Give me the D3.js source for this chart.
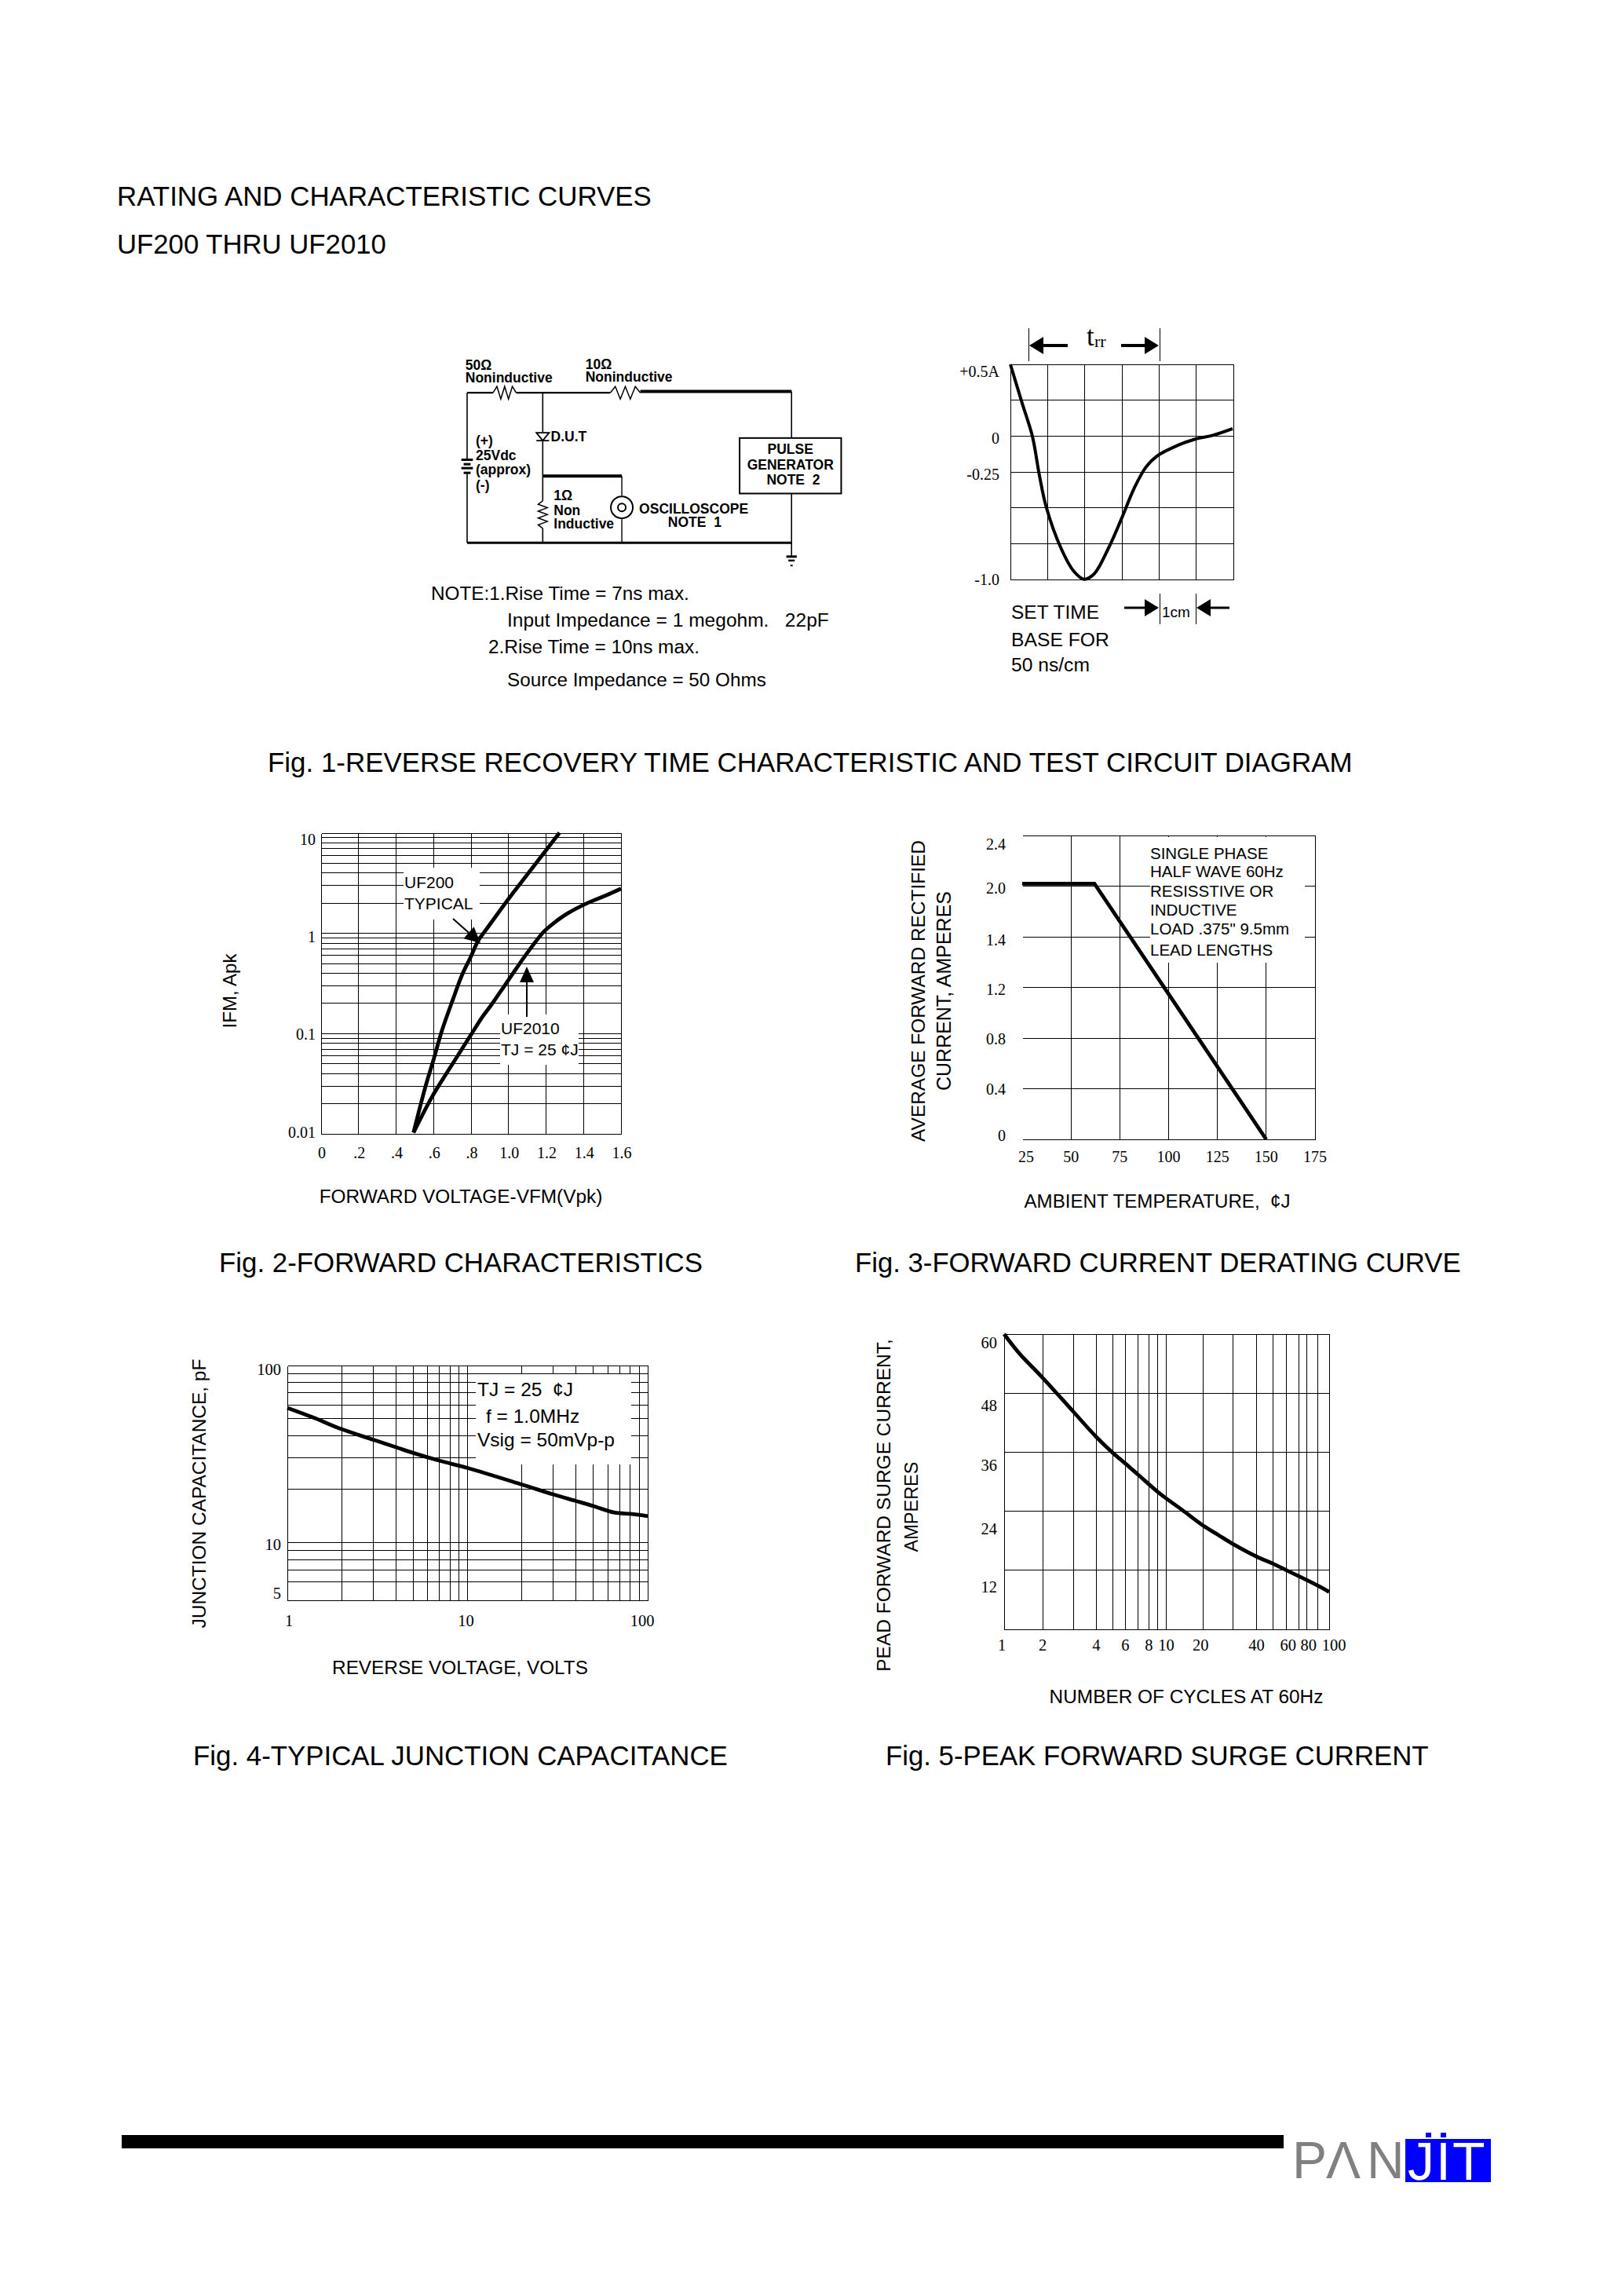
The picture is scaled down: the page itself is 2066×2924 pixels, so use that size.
<!DOCTYPE html>
<html><head><meta charset="utf-8">
<script src="https://cdn.jsdelivr.net/npm/d3@7/dist/d3.min.js"></script>
<style>html,body{margin:0;padding:0;background:#fff}svg{display:block}
text{font-family:"Liberation Sans",Arial,sans-serif;fill:#000}
.serif{font-family:"Liberation Serif","Times New Roman",serif}</style>
</head><body><svg id="c" width="2066" height="2924"></svg>
<script>
// ---- Fig. 1 waveform
const wave_t = [0,.31,.59,.78,.96,1.36,1.71,1.98,2.25,2.64,2.98,3.33,3.64,3.95,4.5,4.99,5.43,5.98];
const wave_i = [.5,.234,0,-.274,-.491,-.781,-.944,-.998,-.962,-.781,-.582,-.364,-.219,-.138,-.065,-.02,.004,.052];
const wave_grid_t = [1,2,3,4,5];
const wave_grid_i = [.25,0,-.25,-.5,-.75];
const wave_labels = [[.5,"+0.5A"],[0,"0"],[-.25,"-0.25"],[-1,"-1.0"]];
// ---- Fig. 2 forward characteristics
const f2_vticks = [0,.2,.4,.6,.8,1,1.2,1.4,1.6];
const f2_vlabels = ["0",".2",".4",".6",".8","1.0","1.2","1.4","1.6"];
const f2_ilabels = [10,1,.1,.01];
const uf200_v = [.493,.557,.6,.646,.702,.75,.798,.838,.879,1,1.104,1.272];
const uf200_i = [.0103,.0297,.055,.109,.216,.377,.582,.845,1.08,2.21,3.95,10.1];
const uf2010_v = [.493,.59,.67,.734,.798,.863,.911,.975,1.039,1.095,1.184,1.24,1.312,1.425,1.513,1.6];
const uf2010_i = [.0103,.0231,.0404,.0624,.0964,.149,.197,.294,.44,.62,1.02,1.26,1.57,2.02,2.36,2.79];
// ---- Fig. 3 derating
const f3_temp = [25,62,150];
const f3_amps = [2.02,2.02,0];
const f3_tticks = [25,50,75,100,125,150,175];
const f3_aticks = [0,.4,.8,1.2,1.6,2,2.4];
const f3_alabels = ["0","0.4","0.8","1.2","1.4","2.0","2.4"];
const f3_note = ["SINGLE PHASE","HALF WAVE 60Hz","RESISSTIVE OR","INDUCTIVE","LOAD .375\" 9.5mm","LEAD LENGTHS"];
// ---- Fig. 4 capacitance
const f4_v = [1,1.43,2,3,4,5,7,10,20,30,40,50,65,82,100];
const f4_c = [57.6,50.3,43.7,38.1,34.6,32.1,29,26.4,21.3,18.7,17.2,16.1,14.8,14.5,14.1];
const f4_vgrid = [2,3,4,5,6,7,8,9,10,20,30,40,50,60,70,80,90];
const f4_cgrid = [90,80,70,60,50,40,30,20,10,9,8,7,6];
const f4_clabels = [100,10,5];
const f4_vlabels = [1,10,100];
// ---- Fig. 5 surge
const f5_n = [1,1.38,2,3,4,5,6,7,9,10,14.8,20,25,30,40,50,60,80,90,100];
const f5_a = [60,56.2,51.1,44.2,39.1,35.8,33.7,31.4,28,26.6,24,21.1,19.2,17.3,14.8,13.3,12,10,8.9,7.6];
const f5_cycles = [1,2,3,4,5,6,7,8,9,10,20,30,40,50,60,70,80,90,100];
const f5_frac = [0,.1189,.2134,.2835,.3354,.3730,.4126,.4451,.4715,.4990,.6118,.7053,.7764,.8283,.8689,.9065,.9319,.9644,1];
const f5_nlabels = [1,2,4,6,8,10,20,40,60,80,100];
const f5_alabels = [60,48,36,24,12];
const f5_agrid = [48,36,24,12];

const svg = d3.select("#c");
function T(x,y,s,o={}){
  const t = svg.append("text").attr("x",x).attr("y",y).text(s)
    .attr("font-size",o.fs||24).attr("text-anchor",o.a||"start").attr("dy",o.dy==null?".35em":o.dy);
  if(o.serif) t.classed("serif",true);
  if(o.bold) t.attr("font-weight",700);
  if(o.fill) t.style("fill",o.fill);
  if(o.w){const m=t.node().getComputedTextLength(); t.attr("font-size",(o.fs||24)*o.w/m);}
  if(o.rot) t.attr("transform",`rotate(-90 ${x} ${y})`);
  return t;
}
const snap=v=>Math.round(v-.5)+.5;
function L(pts,w=1,crisp=true){
  const q=crisp?pts.map(p=>[snap(p[0]),snap(p[1])]):pts;
  const p = svg.append("path").attr("d",d3.line()(q)).attr("fill","none").attr("stroke","#000").attr("stroke-width",w);
  if(crisp) p.attr("shape-rendering","crispEdges");
  return p;
}
function arrow(x0,y0,x1,y1,hl,hw,w=1.6){
  const a=Math.atan2(y1-y0,x1-x0), c=Math.cos(a), s=Math.sin(a);
  L([[x0,y0],[x1-c*hl,y1-s*hl]],w,false);
  svg.append("path").attr("d",d3.line()([[x1,y1],[x1-c*hl-s*hw/2,y1-s*hl+c*hw/2],[x1-c*hl+s*hw/2,y1-s*hl-c*hw/2]])+"Z").attr("fill","#000");
}
function curve(xs,ys,sx,sy,w=4.8){
  svg.append("path").datum(xs.map((d,i)=>[d,ys[i]]))
    .attr("d",d3.line().x(d=>sx(d[0])).y(d=>sy(d[1])).curve(d3.curveCatmullRom.alpha(.5)))
    .attr("fill","none").attr("stroke","#000").attr("stroke-width",w).attr("stroke-linejoin","round");
}
function grid(sx,sy,xv,yv,x0,x1,y0,y1){
  xv.forEach(v=>L([[sx(v),y0],[sx(v),y1]]));
  yv.forEach(v=>L([[x0,sy(v)],[x1,sy(v)]]));
}
function mask(x,y,w,h){svg.append("rect").attr("x",x).attr("y",y).attr("width",w).attr("height",h).attr("fill","#fff");}
function box(x0,x1,y0,y1,sides="tblr"){
  if(sides.includes("t"))L([[x0,y0],[x1,y0]]);
  if(sides.includes("b"))L([[x0,y1],[x1,y1]]);
  if(sides.includes("l"))L([[x0,y0],[x0,y1]]);
  if(sides.includes("r"))L([[x1,y0],[x1,y1]]);
}

// ---- header
T(149,262,"RATING AND CHARACTERISTIC CURVES",{fs:35,dy:0,w:681});
T(149,323,"UF200 THRU UF2010",{fs:35,dy:0,w:343});

// ---- captions
T(341,971,"Fig. 1-REVERSE RECOVERY TIME CHARACTERISTIC AND TEST CIRCUIT DIAGRAM",{fs:36,w:1382});
T(279,1608,"Fig. 2-FORWARD CHARACTERISTICS",{fs:36,w:616});
T(1089,1608,"Fig. 3-FORWARD CURRENT DERATING CURVE",{fs:36,w:772});
T(246,2236,"Fig. 4-TYPICAL JUNCTION CAPACITANCE",{fs:36,w:681});
T(1128,2236,"Fig. 5-PEAK FORWARD SURGE CURRENT",{fs:36,w:692});

// ---- circuit (schematic, local drawing coordinates)
const P=(x,y)=>[499.4+x/1.36,379.5+y/3];
const W=(pts,w=1.5)=>L(pts.map(p=>P(p[0],p[1])),w,false);
function zigH(x0,x1,y,n=3){const r=[];const st=(x1-x0)/(n*2);for(let i=0;i<=n*2;i++)r.push([x0+i*st,y+(i===0||i===n*2?0:(i%2?-24:24))]);W(r);}
function zigV(x,y0,y1,n=4){const r=[];const st=(y1-y0)/(n*2);for(let i=0;i<=n*2;i++)r.push([x+(i===0||i===n*2?0:(i%2?-8:8)),y0+i*st]);W(r);}
W([[130,362],[175,362]],2.4); zigH(175,215,362); W([[215,362],[378,362]],2.4); zigH(378,430,362);
W([[430,357],[692,357]],4);
W([[130,362],[130,615]],1.6); W([[130,670],[130,935]],1.6);
[[618,20],[635,12],[650,20],[668,12]].forEach(b=>W([[130-b[1]/2,b[0]],[130+b[1]/2,b[0]]],3));
W([[130,935],[692,935]],3);
W([[261,362],[261,512]],1.6); W([[261,545],[261,775]],1.6); zigV(261,775,880); W([[261,880],[261,935]],1.6);
svg.append("path").attr("d",d3.line()([P(250,515),P(272,515),P(261,545)])+"Z").attr("fill","#fff").attr("stroke","#000").attr("stroke-width",1.8);
W([[250,545],[272,545]],1.8);
W([[261,680],[398,680]],4);
W([[398,680],[398,755]],1.4); W([[398,845],[398,935]],1.4);
{const c=P(398,800); svg.append("circle").attr("cx",c[0]).attr("cy",c[1]).attr("r",14).attr("fill","none").attr("stroke","#000").attr("stroke-width",2);
 svg.append("circle").attr("cx",c[0]).attr("cy",c[1]).attr("r",5).attr("fill","none").attr("stroke","#000").attr("stroke-width",2);}
W([[692,357],[692,535]],1.6); W([[692,747],[692,985]],1.6);
{const a=P(602,535),b=P(778,747); svg.append("rect").attr("x",a[0]).attr("y",a[1]).attr("width",b[0]-a[0]).attr("height",b[1]-a[1]).attr("fill","none").attr("stroke","#000").attr("stroke-width",2);}
[[988,18,3],[1003,11,2.4],[1022,4,2]].forEach(b=>W([[692-b[1]/2,b[0]],[692+b[1]/2,b[0]]],b[2]));
const CT=(x,y,s,a)=>{const p=P(x,y);T(p[0],p[1],s,{fs:17.5,bold:true,a:a||"start"});};
CT(127,255,"50Ω");CT(127,305,"Noninductive");CT(335,252,"10Ω");CT(335,300,"Noninductive");
CT(145,543,"(+)");CT(145,602,"25Vdc");CT(145,655,"(approx)");CT(145,715,"(-)");
CT(275,528,"D.U.T");CT(280,755,"1Ω");CT(280,810,"Non");CT(280,862,"Inductive");
CT(428,805,"OSCILLOSCOPE");CT(478,855,"NOTE\u00a0\u00a01");
CT(690,578,"PULSE","middle");CT(690,638,"GENERATOR","middle");CT(695,695,"NOTE\u00a0\u00a02","middle");
// notes
T(549,755,"NOTE:1.Rise Time = 7ns max.",{w:329});
T(646,789,"Input Impedance = 1 megohm.\u00a0\u00a0\u00a022pF",{w:410});
T(622,823,"2.Rise Time = 10ns max.",{w:269});
T(646,866,"Source Impedance = 50 Ohms",{w:330});
T(1288,779,"SET TIME",{w:112});
T(1288,814,"BASE FOR",{w:125});
T(1288,846,"50 ns/cm",{w:100});

// ---- Fig. 1 waveform plot
{
 const x0=1287,x1=1571,y0=464,y1=738;
 const sx=d3.scaleLinear().domain([0,6]).range([x0,x1]);
 const sy=d3.scaleLinear().domain([-1,.5]).range([y1,y0]);
 grid(sx,sy,wave_grid_t,wave_grid_i,x0,x1,y0,y1); box(x0,x1,y0,y1);
 curve(wave_t,wave_i,sx,sy,4);
 wave_labels.forEach(d=>T(x0-14,sy(d[0])+(d[0]>0?9:d[0]==-1?0:3),d[1],{serif:true,fs:20,a:"end"}));
 // trr dimension
 const tx0=1310,tx1=1477;
 L([[tx0,417],[tx0,459]]);L([[tx1,417],[tx1,459]]);
 arrow(1360,440,tx0+1,440,18,22,4); arrow(1428,440,tx1-1,440,18,22,4);
 T(1384,440,"t",{serif:true,fs:35,dy:0}); T(1394,442,"rr",{serif:true,fs:22,dy:0});
 L([[tx1,755],[tx1,794]]);L([[1523,755],[1523,794]]);
 arrow(1432,774,tx1-1,774,18,22,3); arrow(1566,774,1524,774,18,22,3);
 T(1480,779,"1cm",{fs:19});
}

// ---- Fig. 2
{
 const x0=409,x1=791,y0=1061,y1=1444;
 const sx=d3.scaleLinear().domain([0,1.6]).range([x0,x1]);
 const sy=d3.scaleLog().domain([.01,10]).range([y1,y0]);
 grid(sx,sy,f2_vticks.slice(1,-1),sy.ticks().filter(v=>v>.01&&v<10),x0,x1,y0,y1); box(x0,x1,y0,y1);
 mask(514,1105,97,66); mask(637,1292,100,64);
 T(515,1124,"UF200",{fs:21});T(515,1151,"TYPICAL",{fs:21});
 T(638,1310,"UF2010",{fs:21});T(638,1337,"TJ = 25 ¢J",{fs:21});
 curve(uf200_v,uf200_i,sx,sy); curve(uf2010_v,uf2010_i,sx,sy);
 arrow(577,1170,612,1201,20,20,2); arrow(671,1295,671,1231,20,18,2);
 f2_vticks.forEach((v,i)=>T(sx(v)+1,1468,f2_vlabels[i],{serif:true,fs:20,a:"middle"}));
 f2_ilabels.forEach(v=>T(x0-7,sy(v)+(v===.01?-2:(v===10?8:(v===1?4:1))),v,{serif:true,fs:20,a:"end"}));
 T(587,1523,"FORWARD VOLTAGE-VFM(Vpk)",{a:"middle",w:361});
 T(293,1262,"IFM, Apk",{rot:true,a:"middle",w:95});
}

// ---- Fig. 3
{
 const x0=1302,x1=1675,y0=1064,y1=1451;
 const sx=d3.scaleLinear().domain([25,175]).range([x0,x1]);
 const sy=d3.scaleLinear().domain([0,2.4]).range([y1,y0]);
 grid(sx,sy,f3_tticks.slice(1,-1),f3_aticks.slice(1,-1),x0,x1,y0,y1); box(x0,x1,y0,y1,"tbr");
 mask(1465,1066,197,160);
 f3_note.forEach((s,i)=>T(1465,[1087,1110,1135,1159,1183,1210][i],s,{fs:20.5}));
 svg.append("path").datum(f3_temp.map((d,i)=>[d,f3_amps[i]])).attr("d",d3.line().x(d=>sx(d[0])).y(d=>sy(d[1]))).attr("fill","none").attr("stroke","#000").attr("stroke-width",4.8);
 const off=[-5,0,1,2.5,4,2,11];
 f3_aticks.forEach((v,i)=>T(x0-21,sy(v)+off[i],f3_alabels[i],{serif:true,fs:20,a:"end"}));
 f3_tticks.forEach(v=>T(sx(v)+(v===25?5:0),1473,v,{serif:true,fs:20,a:"middle"}));
 T(1474,1530,"AMBIENT TEMPERATURE,\u00a0\u00a0¢J",{a:"middle",w:339});
 T(1169,1262,"AVERAGE FORWARD RECTIFIED",{rot:true,a:"middle",w:384});
 T(1202,1262,"CURRENT, AMPERES",{rot:true,a:"middle",w:254});
}

// ---- Fig. 4
{
 const x0=366,x1=825,y0=1739,y1=2038;
 const sx=d3.scaleLog().domain([1,100]).range([x0,x1]);
 const sy=d3.scaleLog().domain([4.73,100]).range([y1,y0]);
 grid(sx,sy,f4_vgrid,f4_cgrid,x0,x1,y0,y1); box(x0,x1,y0,y1);
 mask(606,1750,198,115);
 T(608,1769,"TJ = 25\u00a0\u00a0¢J",{fs:24.5});T(619,1803,"f = 1.0MHz",{fs:24.5});T(608,1833,"Vsig = 50mVp-p",{fs:24.5});
 curve(f4_v,f4_c,sx,sy);
 f4_clabels.forEach(v=>T(x0-8,sy(v)+(v===100?5:v===10?2:-4),v,{serif:true,fs:20.5,a:"end"}));
 f4_vlabels.forEach(v=>T(sx(v)+(v===1?2:v===100?-7:-2),2064,v,{serif:true,fs:20.5,a:"middle"}));
 T(586,2123,"REVERSE VOLTAGE, VOLTS",{a:"middle",w:326});
 T(253,1902,"JUNCTION CAPACITANCE, pF",{rot:true,a:"middle",w:343});
}

// ---- Fig. 5
{
 const x0=1279,x1=1693,y0=1699,y1=2075;
 // The printed grid is not a true log spacing, so each cycle count is mapped to its printed fraction of the width.
 const sx=d3.scaleLinear().domain(f5_cycles).range(f5_frac.map(f=>x0+f*(x1-x0)));
 const sy=d3.scaleLinear().domain([0,60]).range([y1,y0]);
 grid(sx,sy,f5_cycles.slice(1,-1),f5_agrid,x0,x1,y0,y1); box(x0,x1,y0,y1,"tblr");
 curve(f5_n,f5_a,sx,sy);
 const off=[11,16,16,22,21];
 f5_alabels.forEach((v,i)=>T(x0-9,sy(v)+off[i],v,{serif:true,fs:20.5,a:"end"}));
 const dx={1:-3,20:-3,60:2,80:2,100:6};
 f5_nlabels.forEach(v=>T(sx(v)+(dx[v]||0),2095,v,{serif:true,fs:20.5,a:"middle"}));
 T(1511,2160,"NUMBER OF CYCLES AT 60Hz",{a:"middle",w:349});
 T(1125,1917,"PEAD FORWARD SURGE CURRENT,",{rot:true,a:"middle",w:424});
 T(1161,1919,"AMPERES",{rot:true,a:"middle",w:115});
}

// ---- footer
svg.append("rect").attr("x",155).attr("y",2719).attr("width",1480).attr("height",17).attr("fill","#000");
svg.append("rect").attr("x",1790).attr("y",2724).attr("width",109).attr("height",55).attr("fill","#0000ff");
svg.append("rect").attr("x",1816).attr("y",2716).attr("width",7).attr("height",6).attr("fill","#0000ff");
svg.append("rect").attr("x",1835).attr("y",2716).attr("width",7).attr("height",6).attr("fill","#0000ff");
[["P",1646],["Λ",1689],["N",1741]].forEach(d=>T(d[1],2774,d[0],{fs:66,dy:0,fill:"#808080"}));
[["J",1793],["I",1829],["T",1850]].forEach(d=>T(d[1],2776,d[0],{fs:68,dy:0,fill:"#fff"}));
</script></body></html>
